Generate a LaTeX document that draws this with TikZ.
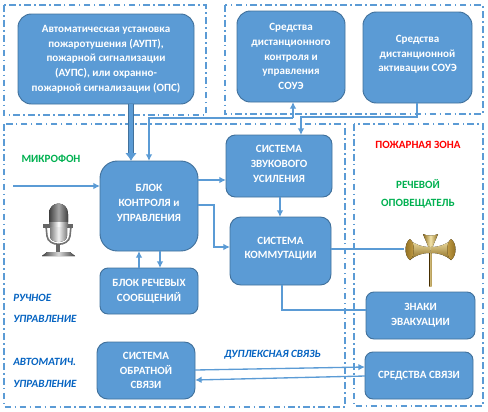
\documentclass[tikz,border=0pt]{standalone}
\usepackage{fontspec}
\setmainfont{Carlito}
\usetikzlibrary{arrows.meta,calc}
\definecolor{boxf}{HTML}{5B9BD5}
\definecolor{boxd}{HTML}{41719C}
\definecolor{lnk}{HTML}{5B9BD5}
\definecolor{frm}{HTML}{5B9BD5}
\definecolor{lab}{HTML}{0563C1}
\definecolor{grn}{HTML}{00B050}
\definecolor{au}{HTML}{C9A24A}
\definecolor{aud}{HTML}{8A6A1E}
\definecolor{aul}{HTML}{F3E3A8}
\tikzset{
  bx/.style={draw=boxd,line width=0.7pt,fill=boxf,rounded corners=10pt,text=white,font=\bfseries\fontsize{8.3}{11}\selectfont,align=center,inner sep=0pt,outer sep=0pt},
  frame/.style={draw=frm,line width=1.1pt,dash pattern=on 5pt off 2.5pt on 1.2pt off 2.5pt},
  conn/.style={draw=lnk,line width=1pt},
  arr/.style={conn,-{Latex[length=5pt,width=5pt]}},
  blab/.style={text=lab,font=\bfseries\itshape\fontsize{8.3}{12}\selectfont,anchor=west,inner sep=0pt},
  glab/.style={text=grn,font=\bfseries\fontsize{8.3}{12}\selectfont,inner sep=0pt},
  rlab/.style={text=red,font=\bfseries\fontsize{8.3}{12}\selectfont,inner sep=0pt},
}
\newcommand{\mybox}[7][10pt]{\node[bx,rounded corners=#1,minimum width=#5*0.75pt-#3*0.75pt,minimum height=#6*0.75pt-#4*0.75pt] (#2) at ({(#3+#5)/2},{(#4+#6)/2}) {#7};}
\begin{document}
\begin{tikzpicture}[x=0.75pt,y=-0.75pt]
\useasboundingbox (0,0) rectangle (488,411);
\draw[frame] (4,5) rectangle (206,115);
\draw[frame] (225,5) rectangle (483,114);
\draw[frame] (4,124) rectangle (345,407);
\draw[frame] (354,124) rectangle (483,406);
\mybox{aupt}{18}{14}{194}{104}{Автоматическая установка\\пожаротушения (АУПТ),\\пожарной сигнализации\\(АУПС), или охранно-\\пожарной сигнализации (ОПС)}
\mybox{ctrl}{237}{11}{345}{102}{Средства\\дистанционного\\контроля и\\управления\\СОУЭ}
\mybox{activ}{363}{12}{472}{103}{Средства\\дистанционной\\активации СОУЭ\\[-5pt]}
\mybox[13pt]{blok}{100}{161}{198}{251}{БЛОК\\КОНТРОЛЯ и\\УПРАВЛЕНИЯ\\[-6.5pt]}
\mybox[7pt]{zvuk}{226}{135}{332}{197}{СИСТЕМА\\ЗВУКОВОГО\\УСИЛЕНИЯ\\[-8pt]}
\mybox[8pt]{komm}{230}{217}{331}{285}{СИСТЕМА\\КОММУТАЦИИ\\[-6.5pt]}
\mybox[6pt]{rech}{100}{268}{198}{314}{БЛОК РЕЧЕВЫХ\\СООБЩЕНИЙ}
\mybox[8pt]{obr}{97}{342}{195}{399}{СИСТЕМА\\ОБРАТНОЙ\\СВЯЗИ}
\mybox[6pt]{znaki}{366}{292}{475}{339}{ЗНАКИ\\ЭВАКУАЦИИ}
\mybox[6pt]{svyaz}{365}{352}{473}{399}{СРЕДСТВА СВЯЗИ}
% free-end coordinates
\coordinate (micin) at (13,186);
\coordinate (hornin) at (404,249);
% connectors
\draw[lnk,line width=5pt,-{Latex[length=6pt,width=9pt]}] ($(aupt.south west)+(113,0)$) -- ($(blok.north west)+(31,0)$);
\draw[boxd,line width=0.5pt] ($(aupt.south west)+(110.5,0)$) -- ($(blok.north west)+(28.5,-8)$) ($(aupt.south west)+(115.5,0)$) -- ($(blok.north west)+(33.5,-8)$);
\draw[conn,-{Latex[length=5pt,width=5pt]}] ($(ctrl.south west)+(56,16)$) -- ($(ctrl.south west)+(56,0)$);
\draw[arr] ($(ctrl.south west)+(56,16)$) -- ($(blok.north west)+(49,-43)$) -- ($(blok.north west)+(49,0)$);
\draw[arr] ($(activ.south west)+(54,0)$) -- ++(0,14) -| ($(zvuk.north west)+(75,0)$);
\draw[arr] (micin) -- ($(blok.north west)+(0,25)$);
\draw[arr] ($(blok.north east)+(0,19)$) -- ($(zvuk.north west)+(0,45)$);
\draw[arr] ($(blok.north east)+(0,44)$) -- ++(16,0) |- ($(komm.north west)+(0,30)$);
\draw[arr] ($(zvuk.south west)+(54,0)$) -- ($(komm.north west)+(50,0)$);
\draw[arr] ($(rech.north west)+(39,0)$) -- ($(blok.south west)+(39,0)$);
\draw[arr] ($(blok.south west)+(60,0)$) -- ($(rech.north west)+(60,0)$);
\draw[conn] ($(komm.north east)+(0,32)$) -- (hornin);
\draw[conn] ($(komm.south west)+(52,0)$) -- ++(0,25) -- ($(znaki.north west)+(0,18)$);
\draw[arr] ($(obr.north east)+(0,28)$) -- ($(svyaz.north west)+(0,15)$);
\draw[arr] ($(svyaz.north west)+(0,24)$) -- ($(obr.north east)+(0,38)$);
% labels
\node[glab] (l1) at (51,159) {МИКРОФОН};
\node[rlab] (l2) at (418,145) {ПОЖАРНАЯ ЗОНА};
\node[glab] (l3) at (418,184) {РЕЧЕВОЙ};
\node[glab] (l4) at (418,204) {ОПОВЕЩАТЕЛЬ};
\node[blab] (l5) at (13,298) {РУЧНОЕ};
\node[blab] (l6) at (13,319) {УПРАВЛЕНИЕ};
\node[blab] (l7) at (13,362) {АВТОМАТИЧ.};
\node[blab] (l8) at (13,384) {УПРАВЛЕНИЕ};
\node[blab] (l9) at (224,355) {ДУПЛЕКСНАЯ СВЯЗЬ};
% microphone
\fill[left color=black!75,right color=black!75,middle color=black!35] (49,214) .. controls (49,200) and (68,200) .. (68,214) -- (68,222) -- (49,222) -- cycle;
\fill[left color=black!60,right color=black!60,middle color=white] (49,222) rectangle (68,227);
\draw[black!55,line width=1.2pt] (46,226) -- (47,236) .. controls (48,247) and (69,247) .. (70,236) -- (71,226);
\fill[black!60] (43,224) rectangle (49,228);
\fill[black!60] (68,224) rectangle (73,228);
\fill[left color=black!50,right color=black!50,middle color=black!5] (50,227) -- (67,227) -- (67,236) .. controls (67,244) and (50,244) .. (50,236) -- cycle;
\fill[black!60] (56,244) rectangle (60,252);
\fill[left color=black!75,right color=black!75,middle color=black!15] (42,256) -- (47,252) -- (70,252) -- (75,256) -- cycle;
% horn
\fill[left color=aud,right color=aud,middle color=aul] (429.3,248) rectangle (431.5,286);
\fill[left color=aud,right color=aud,middle color=aul] (423,234) .. controls (426,236) and (435,236) .. (438,234) .. controls (436,240) and (433,244) .. (432,250) -- (429,250) .. controls (428,244) and (425,240) .. (423,234) -- cycle;
\fill[top color=aul,bottom color=aud] (410,240) .. controls (416,245) and (422,247) .. (430,247) -- (430,253) .. controls (422,253) and (416,255) .. (410,260) -- cycle;
\fill[top color=aul,bottom color=aud] (451,240) .. controls (445,245) and (439,247) .. (431,247) -- (431,253) .. controls (439,253) and (445,255) .. (451,260) -- cycle;
\fill[left color=aud,right color=au] (410,239) .. controls (404,243) and (404,256) .. (410,260) .. controls (415,256) and (415,243) .. (410,239) -- cycle;
\fill[left color=au,right color=aud] (451,239) .. controls (446,243) and (446,256) .. (451,260) .. controls (457,256) and (457,243) .. (451,239) -- cycle;
\end{tikzpicture}
\end{document}
